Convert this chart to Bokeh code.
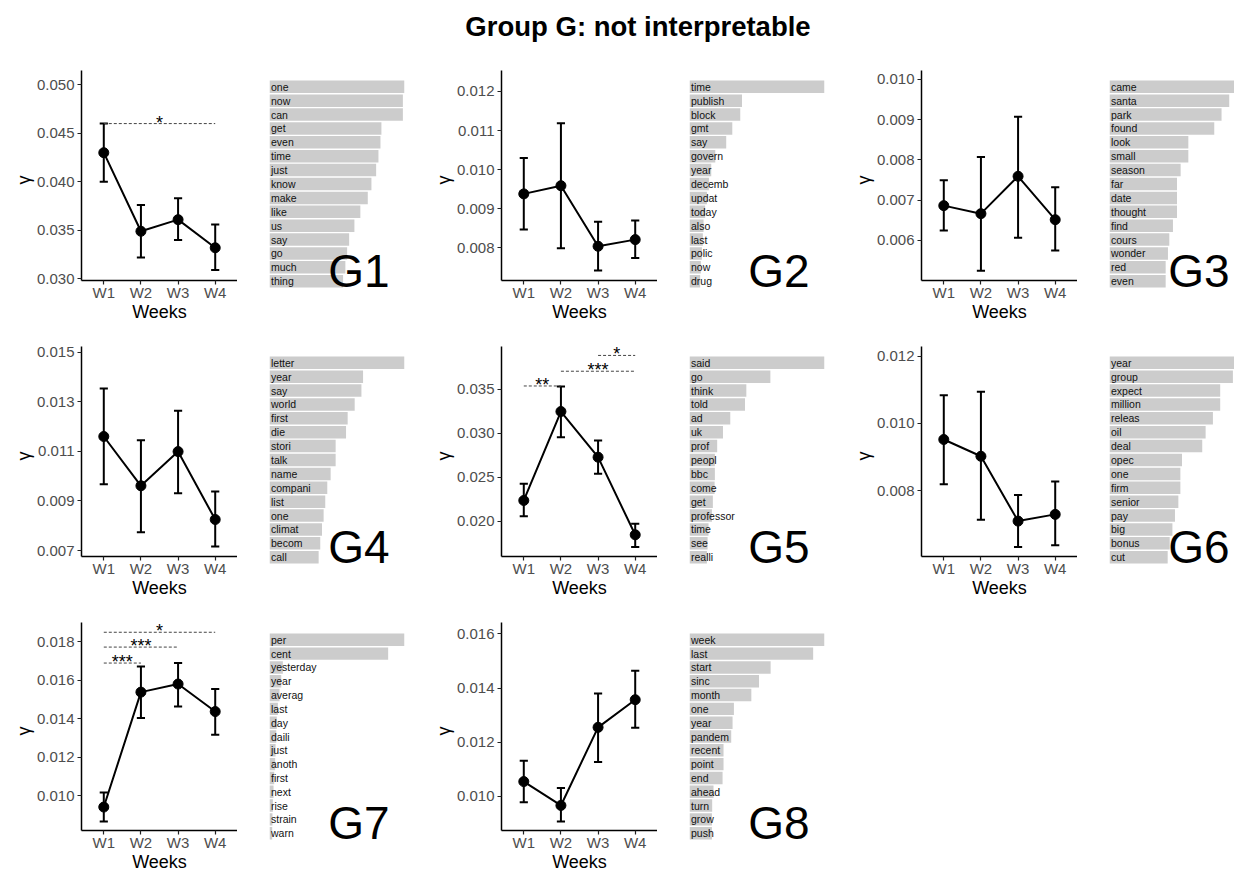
import math
from bokeh.plotting import figure
from bokeh.layouts import column, row
from bokeh.models import Range1d, FixedTicker, NumeralTickFormatter, Div
from bokeh.core.properties import value
from bokeh.embed import file_html
from bokeh.resources import INLINE

FONT = "Liberation Sans"

weeks = ["W1", "W2", "W3", "W4"]

# ---------------- data ----------------
g1_mean = [0.0430, 0.0349, 0.0361, 0.0332]
g1_lo = [0.0400, 0.0322, 0.0340, 0.0309]
g1_hi = [0.0460, 0.0376, 0.0383, 0.0356]
g1_sig_from = [1]
g1_sig_to = [4]
g1_sig_y = [0.0460]
g1_sig_lab = ["*"]
g1_words = ["one", "now", "can", "get", "even", "time", "just", "know", "make",
            "like", "us", "say", "go", "much", "thing"]
g1_beta = [1.0, 0.988, 0.988, 0.829, 0.822, 0.807, 0.790, 0.755, 0.728,
           0.673, 0.629, 0.590, 0.575, 0.562, 0.545]

g2_mean = [0.00938, 0.00959, 0.00804, 0.00821]
g2_lo = [0.00847, 0.00799, 0.00742, 0.00774]
g2_hi = [0.01030, 0.01119, 0.00867, 0.00870]
g2_words = ["time", "publish", "block", "gmt", "say", "govern", "year", "decemb",
            "updat", "today", "also", "last", "polic", "now", "drug"]
g2_beta = [1.0, 0.389, 0.376, 0.317, 0.272, 0.191, 0.161, 0.144,
           0.129, 0.116, 0.104, 0.099, 0.092, 0.084, 0.079]

g3_mean = [0.00686, 0.00666, 0.00759, 0.00651]
g3_lo = [0.00624, 0.00524, 0.00606, 0.00574]
g3_hi = [0.00749, 0.00807, 0.00907, 0.00732]
g3_words = ["came", "santa", "park", "found", "look", "small", "season", "far",
            "date", "thought", "find", "cours", "wonder", "red", "even"]
g3_beta = [1.0, 0.887, 0.830, 0.776, 0.584, 0.584, 0.527, 0.500,
           0.500, 0.500, 0.470, 0.443, 0.433, 0.416, 0.416]

g4_mean = [0.01160, 0.00961, 0.01099, 0.00825]
g4_lo = [0.00967, 0.00774, 0.00931, 0.00716]
g4_hi = [0.01354, 0.01145, 0.01264, 0.00938]
g4_words = ["letter", "year", "say", "world", "first", "die", "stori", "talk",
            "name", "compani", "list", "one", "climat", "becom", "call"]
g4_beta = [1.0, 0.693, 0.681, 0.631, 0.579, 0.567, 0.490, 0.490,
           0.453, 0.428, 0.413, 0.401, 0.389, 0.376, 0.364]

g5_mean = [0.02236, 0.03249, 0.02729, 0.01845]
g5_lo = [0.02057, 0.02957, 0.02539, 0.01705]
g5_hi = [0.02426, 0.03534, 0.02919, 0.01970]
g5_sig_from = [1, 2, 3]
g5_sig_to = [2, 4, 4]
g5_sig_y = [0.03540, 0.03708, 0.03888]
g5_sig_lab = ["**", "***", "*"]
g5_words = ["said", "go", "think", "told", "ad", "uk", "prof", "peopl",
            "bbc", "come", "get", "professor", "time", "see", "realli"]
g5_beta = [1.0, 0.599, 0.421, 0.411, 0.302, 0.248, 0.205, 0.188,
           0.188, 0.186, 0.173, 0.166, 0.141, 0.134, 0.129]

g6_mean = [0.00952, 0.00902, 0.00709, 0.00729]
g6_lo = [0.00819, 0.00713, 0.00632, 0.00637]
g6_hi = [0.01084, 0.01094, 0.00787, 0.00827]
g6_words = ["year", "group", "expect", "million", "releas", "oil", "deal", "opec",
            "one", "firm", "senior", "pay", "big", "bonus", "cut"]
g6_beta = [1.0, 0.914, 0.820, 0.820, 0.766, 0.712, 0.687, 0.537,
           0.525, 0.525, 0.510, 0.485, 0.466, 0.446, 0.431]

g7_mean = [0.00940, 0.01537, 0.01579, 0.01436]
g7_lo = [0.00865, 0.01402, 0.01462, 0.01315]
g7_hi = [0.01016, 0.01670, 0.01688, 0.01553]
g7_sig_from = [1, 1, 1]
g7_sig_to = [4, 3, 2]
g7_sig_y = [0.01848, 0.01771, 0.01688]
g7_sig_lab = ["*", "***", "***"]
g7_words = ["per", "cent", "yesterday", "year", "averag", "last", "day", "daili",
            "just", "anoth", "first", "next", "rise", "strain", "warn"]
g7_beta = [1.0, 0.879, 0.099, 0.087, 0.074, 0.062, 0.054, 0.050,
           0.045, 0.042, 0.035, 0.030, 0.025, 0.022, 0.020]

g8_mean = [0.01055, 0.00967, 0.01255, 0.01357]
g8_lo = [0.00979, 0.00908, 0.01127, 0.01254]
g8_hi = [0.01132, 0.01031, 0.01380, 0.01464]
g8_words = ["week", "last", "start", "sinc", "month", "one", "year", "pandem",
            "recent", "point", "end", "ahead", "turn", "grow", "push"]
g8_beta = [1.0, 0.916, 0.601, 0.515, 0.458, 0.329, 0.319, 0.309,
           0.252, 0.252, 0.245, 0.178, 0.168, 0.166, 0.166]


# ---------------- builders ----------------
def line_panel(mean, lo, hi, yr, ticks, height, bottom,
               sig_from=(), sig_to=(), sig_y=(), sig_lab=()):
    p = figure(width=237, height=height, x_range=Range1d(0.4, 4.6),
               y_range=Range1d(yr[0], yr[1]), output_backend="svg", title=None,
               toolbar_location=None, min_border_left=81, min_border_right=0,
               min_border_top=20, min_border_bottom=bottom)
    p.outline_line_color = None
    p.grid.visible = False
    p.background_fill_color = "white"
    p.border_fill_color = "white"
    x = list(range(1, len(weeks) + 1))
    cap = 0.11
    p.segment(x0=x, y0=lo, x1=x, y1=hi, line_color="black", line_width=2)
    p.segment(x0=[v - cap for v in x], y0=lo, x1=[v + cap for v in x], y1=lo,
              line_color="black", line_width=2)
    p.segment(x0=[v - cap for v in x], y0=hi, x1=[v + cap for v in x], y1=hi,
              line_color="black", line_width=2)
    p.line(x, mean, line_color="black", line_width=2)
    p.scatter(x, mean, size=10, color="black", marker="circle")
    if len(sig_y):
        p.segment(x0=list(sig_from), y0=list(sig_y), x1=list(sig_to), y1=list(sig_y),
                  line_color="#444444", line_width=1, line_dash="3 2")
        p.text(x=[(a + b) / 2 for a, b in zip(sig_from, sig_to)], y=list(sig_y),
               text=list(sig_lab), text_align="center", text_baseline="middle",
               y_offset=-1, text_font=value(FONT), text_font_size="18px",
               text_color="black")
    xa = p.xaxis[0]
    xa.ticker = FixedTicker(ticks=x)
    xa.major_label_overrides = {i + 1: w for i, w in enumerate(weeks)}
    ya = p.yaxis[0]
    ya.ticker = FixedTicker(ticks=ticks)
    ya.formatter = NumeralTickFormatter(format="0.000")
    for ax in (xa, ya):
        ax.axis_line_color = "black"
        ax.axis_line_width = 1.5
        ax.major_tick_line_color = "#222222"
        ax.major_tick_line_width = 1.2
        ax.major_tick_in = 0
        ax.major_tick_out = 4
        ax.minor_tick_line_color = None
        ax.major_label_text_font = FONT
        ax.major_label_text_font_size = "15px"
        ax.major_label_text_color = "#4D4D4D"
        ax.axis_label_text_font = FONT
        ax.axis_label_text_font_size = "18px"
        ax.axis_label_text_font_style = "normal"
        ax.axis_label_text_color = "black"
    xa.axis_label = "Weeks"
    xa.major_label_standoff = -1
    xa.axis_label_standoff = -2
    ya.axis_label = "γ"
    ya.major_label_standoff = 3
    ya.axis_label_standoff = 10
    try:
        ya.axis_label_orientation = math.pi / 2
    except Exception:
        pass
    return p


def bar_panel(words, beta, glabel, width, height, top, bottom, right, xend):
    n = len(words)
    p = figure(width=width, height=height, x_range=Range1d(0, xend),
               y_range=Range1d(n + 0.6, 0.4), output_backend="svg", title=None,
               toolbar_location=None, min_border_left=32, min_border_right=right,
               min_border_top=top, min_border_bottom=bottom,
               x_axis_location=None, y_axis_location=None)
    p.outline_line_color = None
    p.grid.visible = False
    y = list(range(1, n + 1))
    p.hbar(y=y, left=0, right=beta, height=0.9, fill_color="#CCCCCC", line_color=None)
    p.text(x=[0] * n, y=y, text=words, x_offset=1.5, text_baseline="middle",
           text_font=value(FONT), text_font_size="10.5px", text_color="#111111")
    p.text(x=[0.89], y=[14.25], text=[glabel], text_align="right",
           text_baseline="alphabetic", text_font=value(FONT),
           text_font_size="46px", text_color="black")
    return p


H1, H3 = 276, 273

L1 = line_panel(g1_mean, g1_lo, g1_hi, (0.02983, 0.05147), [0.030, 0.035, 0.040, 0.045, 0.050],
                H1, 46, g1_sig_from, g1_sig_to, g1_sig_y, g1_sig_lab)
B1 = bar_panel(g1_words, g1_beta, "G1", 183, H1, 28, 37, 16, 1.0)
L2 = line_panel(g2_mean, g2_lo, g2_hi, (0.007164, 0.012537), [0.008, 0.009, 0.010, 0.011, 0.012],
                H1, 46)
B2 = bar_panel(g2_words, g2_beta, "G2", 183, H1, 28, 37, 16, 1.0)
L3 = line_panel(g3_mean, g3_lo, g3_hi, (0.004996, 0.010224), [0.006, 0.007, 0.008, 0.009, 0.010],
                H1, 46)
B3 = bar_panel(g3_words, g3_beta, "G3", 157, H1, 28, 37, 0, 125 / 135)
L4 = line_panel(g4_mean, g4_lo, g4_hi, (0.006758, 0.01523), [0.007, 0.009, 0.011, 0.013, 0.015],
                H1, 46)
B4 = bar_panel(g4_words, g4_beta, "G4", 183, H1, 28, 37, 16, 1.0)
L5 = line_panel(g5_mean, g5_lo, g5_hi, (0.015979, 0.039897), [0.020, 0.025, 0.030, 0.035],
                H1, 46, g5_sig_from, g5_sig_to, g5_sig_y, g5_sig_lab)
B5 = bar_panel(g5_words, g5_beta, "G5", 183, H1, 28, 37, 16, 1.0)
L6 = line_panel(g6_mean, g6_lo, g6_hi, (0.006036, 0.012289), [0.008, 0.010, 0.012],
                H1, 46)
B6 = bar_panel(g6_words, g6_beta, "G6", 157, H1, 28, 37, 0, 125 / 135)
L7 = line_panel(g7_mean, g7_lo, g7_hi, (0.008182, 0.018987), [0.010, 0.012, 0.014, 0.016, 0.018],
                H3, 45, g7_sig_from, g7_sig_to, g7_sig_y, g7_sig_lab)
B7 = bar_panel(g7_words, g7_beta, "G7", 183, H3, 29, 34, 16, 1.0)
L8 = line_panel(g8_mean, g8_lo, g8_hi, (0.008746, 0.016417), [0.010, 0.012, 0.014, 0.016],
                H3, 45)
B8 = bar_panel(g8_words, g8_beta, "G8", 183, H3, 29, 34, 16, 1.0)

grid = row(
    column(L1, L4, L7, spacing=0),
    column(B1, B4, B7, spacing=0),
    column(L2, L5, L8, spacing=0),
    column(B2, B5, B8, spacing=0),
    column(L3, L6, spacing=0),
    column(B3, B6, spacing=0),
    spacing=0,
)

title = Div(text="Group G: not interpretable", width=1234, height=50,
            margin=(0, 0, 0, 0),
            styles={"font-family": FONT, "font-size": "27.5px", "font-weight": "bold",
                    "text-align": "center", "line-height": "54px", "color": "black",
                    "padding-left": "42px", "box-sizing": "border-box",
                    "width": "1234px"})

layout = column(title, grid, spacing=0)

with open("out.html", "w") as f:
    f.write(file_html(layout, INLINE))
